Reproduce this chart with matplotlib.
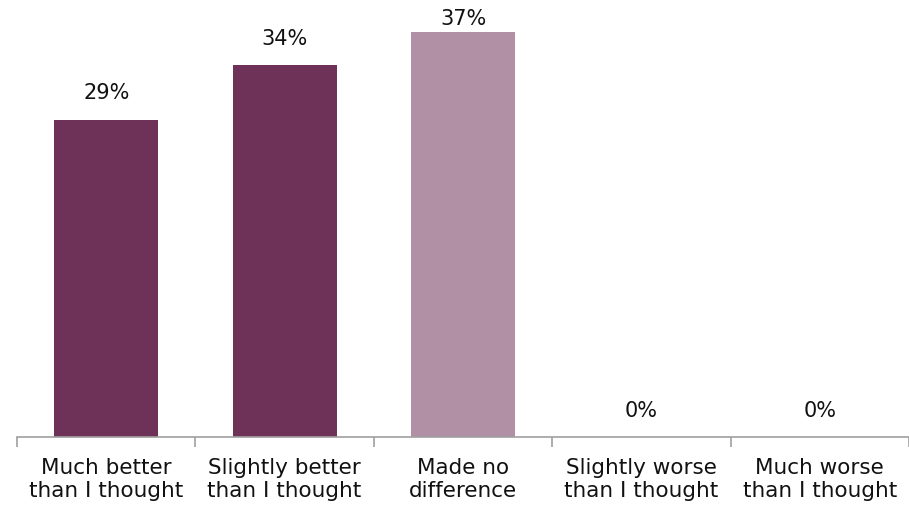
import matplotlib.pyplot as plt

categories = ["Much better\nthan I thought", "Slightly better\nthan I thought",
              "Made no\ndifference", "Slightly worse\nthan I thought",
              "Much worse\nthan I thought"]
values = [29, 34, 37, 0, 0]
colors = ["#6E3157", "#6E3157", "#B18FA4", "#6E3157", "#6E3157"]

plt.rcParams['font.family'] = ['DejaVu Sans']

fig = plt.figure(figsize=(9.09, 5.13), dpi=100)
ax = fig.add_axes([17 / 909, 76 / 513, 1 - 17 / 909, 437 / 513])

x = range(len(categories))
bars = ax.bar(x, values, width=0.583, color=colors)
ax.set_xlim(-0.5, 4.5)
ax.set_ylim(0, 39.95)

# value labels above the bars, kept inside the plot area
for b, v in zip(bars, values):
    y = min(v + 1.5, 37.3)
    ax.text(b.get_x() + b.get_width() / 2, y, f"{v}%",
            ha="center", va="bottom", fontsize=15, color="#111111")

for s in ["top", "right", "left"]:
    ax.spines[s].set_visible(False)
ax.spines["bottom"].set_color("#A0A0A0")
ax.spines["bottom"].set_linewidth(1.2)
ax.set_yticks([])

# category labels centred, tick marks on the boundaries
ax.set_xticks(list(x))
ax.set_xticklabels(categories, fontsize=15.5, color="#111111", linespacing=1.2)
ax.tick_params(axis="x", which="major", length=0, pad=15)
ax.set_xticks([i - 0.5 for i in range(6)], minor=True)
ax.tick_params(axis="x", which="minor", length=7, color="#A0A0A0", width=1.2)

fig.savefig("out.png", dpi=100)
